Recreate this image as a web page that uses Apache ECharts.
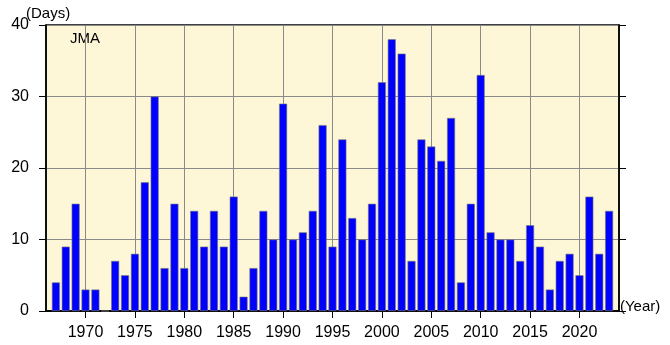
<!DOCTYPE html>
<html>
<head>
<meta charset="utf-8">
<script src="https://cdn.jsdelivr.net/npm/echarts@6/dist/echarts.min.js"></script>
<style>
  html, body { margin: 0; padding: 0; background: #fff; }
  #chart { width: 670px; height: 345px; }
</style>
</head>
<body>
<div id="chart"></div>
<script>
// years on the axis: 1966..2024, bars from 1967 to 2023
const years = []
for (let y = 1966; y <= 2024; y++) years.push(String(y))

const days = [
  '-',
  4, 9, 15, 3, 3, 0, 7, 5, 8, 18,       // 1967-1976
  30, 6, 15, 6, 14, 9, 14, 9, 16, 2,    // 1977-1986
  6, 14, 10, 29, 10, 11, 14, 26, 9, 24, // 1987-1996
  13, 10, 15, 32, 38, 36, 7, 24, 23, 21, // 1997-2006
  27, 4, 15, 33, 11, 10, 10, 7, 12, 9,  // 2007-2016
  3, 7, 8, 5, 16, 8, 14,                // 2017-2023
  '-'
]

const yTicks = [0, 10, 20, 30, 40]

const font = 'Liberation Sans, Arial, Helvetica, sans-serif'
const every5 = (idx, val) => Number(val) % 5 === 0

const tick = { show: true, inside: false, length: 7, lineStyle: { color: '#000', width: 1 } }

const chart = echarts.init(document.getElementById('chart'))
chart.setOption({
  animation: false,
  grid: {
    left: 46, right: 51, top: 25, bottom: 34,
    show: true,
    backgroundColor: '#fdf7d7',
    borderColor: '#000',
    borderWidth: 1.5
  },
  xAxis: [
    {
      type: 'category',
      data: years,
      boundaryGap: false,
      axisLine: { lineStyle: { color: '#000', width: 1.5 } },
      axisTick: Object.assign({ interval: every5 }, tick),
      axisLabel: { interval: every5, color: '#000', fontSize: 16, fontFamily: font, margin: 14 },
      splitLine: { show: true, interval: every5, lineStyle: { color: '#8a8a8a', width: 1 } }
    },
    {
      type: 'category',
      data: years,
      position: 'top',
      boundaryGap: false,
      axisLine: { lineStyle: { color: '#000', width: 1.5 } },
      axisTick: Object.assign({ interval: every5 }, tick),
      axisLabel: { show: false },
      splitLine: { show: false }
    }
  ],
  yAxis: [
    {
      type: 'value',
      min: yTicks[0], max: yTicks[yTicks.length - 1], interval: 10,
      axisLine: { show: true, lineStyle: { color: '#000', width: 1.5 } },
      axisTick: tick,
      axisLabel: { color: '#000', fontSize: 16, fontFamily: font, margin: 17 },
      splitLine: { show: true, lineStyle: { color: '#8a8a8a', width: 1 } }
    },
    {
      type: 'value',
      position: 'right',
      min: yTicks[0], max: yTicks[yTicks.length - 1], interval: 10,
      axisLine: { show: true, lineStyle: { color: '#000', width: 1.5 } },
      axisTick: tick,
      axisLabel: { show: false },
      splitLine: { show: false }
    }
  ],
  series: [{
    type: 'bar',
    data: days,
    barWidth: 8,
    itemStyle: { color: '#0000ff', borderColor: '#7a7a7a', borderWidth: 0.6 }
  }],
  graphic: [
    { type: 'text', left: 26, top: 6, style: { text: '(Days)', fill: '#000', font: '15px ' + font } },
    { type: 'text', left: 70, top: 31, style: { text: 'JMA', fill: '#000', font: '15px ' + font } },
    { type: 'text', left: 620, top: 299, style: { text: '(Year)', fill: '#000', font: '15px ' + font } }
  ]
})
</script>
</body>
</html>
